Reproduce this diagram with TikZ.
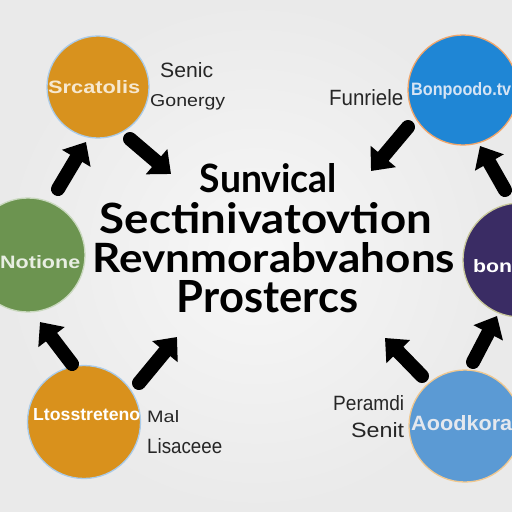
\documentclass[tikz,border=0pt]{standalone}
\usepackage{fontspec}
\usepackage{graphicx}
\setmainfont{Lato}
\newfontfamily\labfont{Liberation Sans}
\usetikzlibrary{arrows.meta}
\definecolor{orTL}{HTML}{D8921E}
\definecolor{blTR}{HTML}{1F86D5}
\definecolor{grL}{HTML}{6C9450}
\definecolor{puR}{HTML}{3A2C64}
\definecolor{orBL}{HTML}{D9911C}
\definecolor{blBR}{HTML}{5B9AD4}
\definecolor{ringblue}{HTML}{A9CBEA}
\definecolor{ringorange}{HTML}{F2A66A}
\definecolor{ringbeige}{HTML}{F0C890}
\definecolor{ringgreen}{HTML}{C9D8BE}
\definecolor{ringpurple}{HTML}{C8C89A}
\definecolor{labgray}{HTML}{262626}
\definecolor{bgedge}{HTML}{EAEAEA}
\definecolor{bgmid}{HTML}{F7F7F7}
\newcommand{\fitbox}[3]{\resizebox{#1}{#2}{#3}}
\begin{document}
\begin{tikzpicture}[x=1pt,y=-1pt,
  blob/.style={circle,inner sep=0pt,line width=1.3pt},
  titletext/.style={anchor=base,inner sep=0pt,text=black,font=\bfseries},
  sidelab/.style={anchor=base west,inner sep=0pt,text=labgray,font=\labfont},
  inlab/.style={anchor=base west,inner sep=0pt,font=\labfont\bfseries},
  bigarrow/.style={line width=14pt,line cap=round,black,-{Triangle[width=32pt,length=19pt]}}]
\useasboundingbox (0,0) rectangle (512,512);
\shade[inner color=bgmid,outer color=bgedge] (0,0) rectangle (512,512);
\clip (0,0) rectangle (512,512);

% circles
\node[blob,minimum size=102pt,fill=orTL,draw=ringblue] (c1) at (98,87) {};
\node[blob,minimum size=110pt,fill=blTR,draw=ringorange] (c2) at (463,90) {};
\node[blob,minimum size=114pt,fill=grL,draw=ringgreen] (c3) at (28,255) {};
\node[blob,minimum size=114pt,fill=puR,draw=ringpurple] (c4) at (520,260) {};
\node[blob,minimum size=113pt,fill=orBL,draw=ringblue] (c5) at (84,422) {};
\node[blob,minimum size=112pt,fill=blBR,draw=ringbeige] (c6) at (465,426) {};

% circle labels
\node[inlab,text={rgb,255:red,246;green,232;blue,208}] (l1) at (48,93) {\fitbox{92pt}{13pt}{Srcatolis}};
\node[inlab,text={rgb,255:red,214;green,228;blue,244}] (l2) at (411,95) {\fitbox{100pt}{13pt}{Bonpoodo.tv}};
\node[inlab,text={rgb,255:red,232;green,238;blue,226}] (l3) at (0,268) {\fitbox{80pt}{13pt}{Notione}};
\node[inlab,text=white] (l4) at (473,272) {\fitbox{39pt}{13pt}{bon}};
\node[inlab,text=white] (l5) at (33,420) {\fitbox{107pt}{12pt}{Ltosstreteno}};
\node[inlab,text={rgb,255:red,228;green,232;blue,238}] (l6) at (411,430) {\fitbox{101pt}{15pt}{Aoodkora}};

% side labels
\node[sidelab] (s1) at (160,77) {\fitbox{53pt}{15pt}{Senic}};
\node[sidelab] (s2) at (150,106) {\fitbox{75pt}{12pt}{Gonergy}};
\node[sidelab] (s3) at (329,105) {\fitbox{74pt}{16pt}{Funriele}};
\node[sidelab] (s4) at (147,422) {\fitbox{32pt}{12pt}{Mal}};
\node[sidelab] (s5) at (147,453) {\fitbox{75pt}{15pt}{Lisaceee}};
\node[sidelab] (s6) at (333,410) {\fitbox{71pt}{15pt}{Peramdi}};
\node[sidelab] (s7) at (351,437) {\fitbox{53pt}{15pt}{Senit}};

% title
\node[titletext] (t1) at (268.5,192) {\fitbox{137pt}{29pt}{Sunvical}};
\node[titletext] (t2) at (266,233) {\fitbox{332pt}{31pt}{Sectinivatovtion}};
\node[titletext] (t3) at (274,272) {\fitbox{362pt}{30pt}{Revnmorabvahons}};
\node[titletext] (t4) at (267.5,312) {\fitbox{181pt}{32pt}{Prostercs}};

% arrow end points
\coordinate (a1t) at (130,139); \coordinate (a1h) at (171,174);
\coordinate (a2t) at (58,189);  \coordinate (a2h) at (86,142);
\coordinate (a3t) at (408,127); \coordinate (a3h) at (371,171);
\coordinate (a4t) at (505,190); \coordinate (a4h) at (480,146);
\coordinate (a5t) at (72,364);  \coordinate (a5h) at (40,322);
\coordinate (a6t) at (139,383); \coordinate (a6h) at (177,337);
\coordinate (a7t) at (422,376); \coordinate (a7h) at (385,338);
\coordinate (a8t) at (473,362); \coordinate (a8h) at (497,316);

\draw[bigarrow] (a1t) -- (a1h);
\draw[bigarrow] (a2t) -- (a2h);
\draw[bigarrow] (a3t) -- (a3h);
\draw[bigarrow] (a4t) -- (a4h);
\draw[bigarrow] (a5t) -- (a5h);
\draw[bigarrow] (a6t) -- (a6h);
\draw[bigarrow] (a7t) -- (a7h);
\draw[bigarrow] (a8t) -- (a8h);
\end{tikzpicture}
\end{document}
